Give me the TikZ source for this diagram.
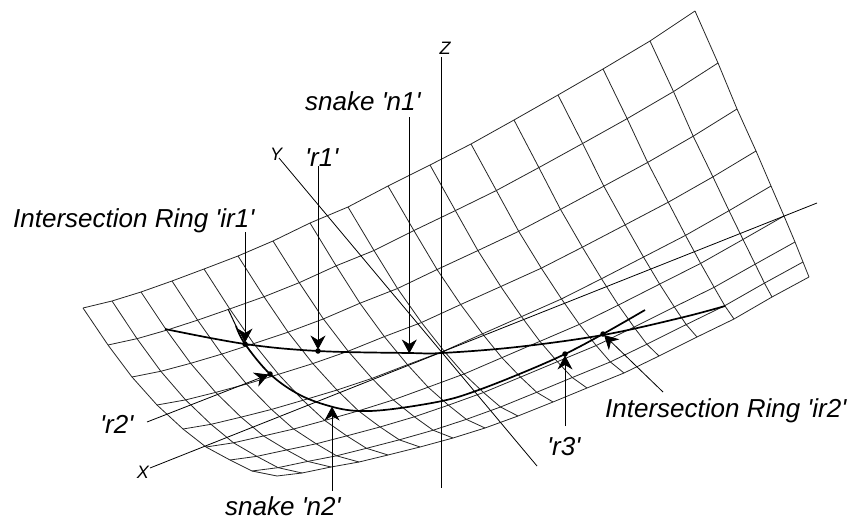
\documentclass[tikz,border=0pt]{standalone}
\usepackage{fontspec}
\usetikzlibrary{arrows.meta}
\newfontfamily\labelfont{Liberation Sans}
\def\topx{{83,112,141,172,204,238,273,310,348,388,430,471,514,558,603,650,695}}
\def\topy{{308,301,292,281,269,256,241,223,207,186,165,144,120,95,69,41,11}}
\def\botx{{277,302,331,359,388,420,453,485,518,553,587,624,659,697,734,772,809}}
\def\boty{{476,473,467,462,455,447,438,428,416,402,388,373,356,337,319,297,277}}
\def\lefx{{83,108,132,157,183,206,230,252,277}}
\def\lefy{{308,345,377,405,429,447,460,471,476}}
\def\rigx{{695,718,737,756,771,784,795,803,809}}
\def\rigy{{11,63,109,151,186,216,242,262,277}}
\begin{document}
\begin{tikzpicture}[
  x=1pt,y=-1pt,
  meshline/.style={line width=0.8pt,black!85},
  axisline/.style={line width=0.8pt},
  snakeline/.style={line width=1.7pt,line join=round},
  leader/.style={-{Stealth[length=14pt,width=15pt,inset=4.5pt]},line width=0.8pt,shorten >=-1.5pt},
  dotn/.style={circle,fill=black,inner sep=0pt,minimum size=5.5pt},
  lab/.style={anchor=base west,inner sep=0pt,font=\fontsize{26}{28}\labelfont\itshape},
  axlab/.style={inner sep=0pt,font=\fontsize{18}{20}\labelfont\itshape}
]
  \useasboundingbox (0,0) rectangle (859,519);
  % mesh points
  \foreach \i in {0,...,16} {
    \foreach \j in {0,...,8} {
      \pgfmathsetmacro{\u}{\i/16}
      \pgfmathsetmacro{\v}{\j/8}
      \pgfmathsetmacro{\px}{(1-\v)*\topx[\i]+\v*\botx[\i]+(1-\u)*\lefx[\j]+\u*\rigx[\j]-((1-\u)*(1-\v)*83+\u*(1-\v)*695+(1-\u)*\v*277+\u*\v*809)}
      \pgfmathsetmacro{\py}{(1-\v)*\topy[\i]+\v*\boty[\i]+(1-\u)*\lefy[\j]+\u*\rigy[\j]-((1-\u)*(1-\v)*308+\u*(1-\v)*11+(1-\u)*\v*476+\u*\v*277)}
      \coordinate (p-\i-\j) at (\px,\py);
    }
  }
  \foreach \i in {0,...,16} \draw[meshline] (p-\i-0) foreach \j in {1,...,8} { -- (p-\i-\j) };
  \foreach \j in {0,...,8} \draw[meshline] (p-0-\j) foreach \i in {1,...,16} { -- (p-\i-\j) };
  % axes
  \coordinate (zt) at (441.5,57);
  \coordinate (zb) at (441.5,488);
  \coordinate (xa) at (150,468);
  \coordinate (xb) at (817,203);
  \coordinate (ya) at (279,158);
  \coordinate (yb) at (537,466);
  \draw[axisline] (zt) -- (zb);
  \draw[axisline] (xa) -- (xb);
  \draw[axisline] (ya) -- (yb);
  \node[axlab] (zlab) at (445,48) {Z};
  \node[axlab] (xlab) at (143,472) {X};
  \node[axlab] (ylab) at (276,154) {Y};
  % snakes
  \draw[snakeline] plot[smooth,tension=0.6] coordinates {(165,329) (245,344) (318,351) (409,353) (442,353) (517,347) (603,335) (680,318) (725,306)};
  \draw[line width=1pt] (228,309) -- (236,326);
  \draw[snakeline] plot[smooth,tension=0.6] coordinates {(236,326) (245,344) (270,374) (300,395) (333,407) (360,411) (393,409) (442,401) (473,392) (517,375) (563,355) (603,334) (645,310)};
  % dots
  \node[dotn] (d1) at (245,344) {};
  \node[dotn] (d2) at (318,351) {};
  \node[dotn] (d3) at (270,374) {};
  \node[dotn] (d4) at (565,354) {};
  \node[dotn] (d5) at (603,334) {};
  \coordinate (c1) at (409.3,352);
  \coordinate (c2) at (332,408);
  % leaders
  \coordinate (s1) at (245,232);
  \coordinate (s2) at (318,166);
  \coordinate (s3) at (409.3,117);
  \coordinate (s4) at (147,422);
  \coordinate (s5) at (332,491);
  \coordinate (s6) at (565,426);
  \coordinate (s7) at (663,392);
  \draw[leader] (s1) -- (d1);
  \draw[leader] (s2) -- (d2);
  \draw[leader] (s3) -- (c1);
  \draw[leader] (s4) -- (d3);
  \draw[leader] (s5) -- (c2);
  \draw[leader] (s6) -- (d4);
  \draw[leader] (s7) -- (d5);
  % labels
  \node[lab] (ir1) at (13,227) {Intersection Ring 'ir1'};
  \node[lab] (r1) at (305,166) {'r1'};
  \node[lab] (n1) at (305,110) {snake 'n1'};
  \node[lab] (r2) at (100,433) {'r2'};
  \node[lab] (n2) at (225,515) {snake 'n2'};
  \node[lab] (r3) at (547,455) {'r3'};
  \node[lab] (ir2) at (605,417) {Intersection Ring 'ir2'};
\end{tikzpicture}
\end{document}
